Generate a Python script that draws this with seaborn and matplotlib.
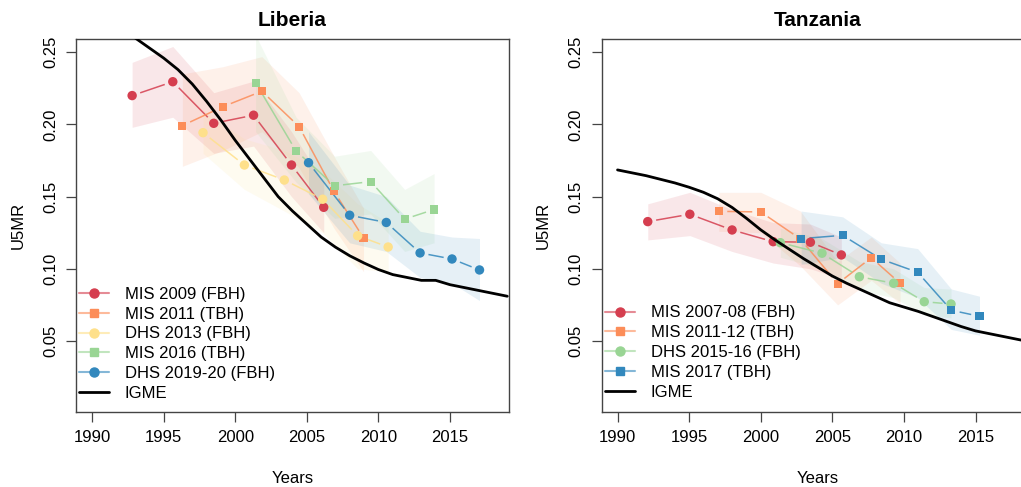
import numpy as np
import pandas as pd
import matplotlib
matplotlib.use("Agg")
import matplotlib.pyplot as plt
import seaborn as sns
from matplotlib.lines import Line2D

sns.set_theme(style="ticks")
plt.rcParams['font.family'] = ['Liberation Sans', 'DejaVu Sans']

# ---------------- data: Liberia ----------------
lib_mis2009_year = [1992.8, 1995.64, 1998.5, 2001.28, 2003.93, 2006.18]
lib_mis2009_u5mr = [0.220, 0.2296, 0.2008, 0.2064, 0.1719, 0.1426]
lib_mis2009_lo = [0.198, 0.205, 0.180, 0.185, 0.150, 0.125]
lib_mis2009_hi = [0.243, 0.254, 0.222, 0.230, 0.195, 0.160]

lib_mis2011_year = [1996.31, 1999.14, 2001.86, 2004.46, 2006.9, 2008.96]
lib_mis2011_u5mr = [0.1992, 0.2123, 0.2230, 0.1985, 0.1536, 0.1214]
lib_mis2011_lo = [0.171, 0.182, 0.195, 0.170, 0.128, 0.098]
lib_mis2011_hi = [0.235, 0.240, 0.247, 0.222, 0.178, 0.142]

lib_dhs2013_year = [1997.75, 2000.64, 2003.43, 2006.11, 2008.55, 2010.68]
lib_dhs2013_u5mr = [0.1943, 0.1719, 0.1615, 0.1482, 0.1229, 0.1151]
lib_dhs2013_lo = [0.180, 0.155, 0.140, 0.125, 0.100, 0.098]
lib_dhs2013_hi = [0.210, 0.190, 0.182, 0.168, 0.145, 0.132]

lib_mis2016_year = [2001.42, 2004.25, 2006.94, 2009.46, 2011.83, 2013.89]
lib_mis2016_u5mr = [0.2289, 0.1816, 0.1575, 0.1604, 0.1344, 0.1411]
lib_mis2016_lo = [0.195, 0.160, 0.135, 0.138, 0.112, 0.118]
lib_mis2016_hi = [0.262, 0.205, 0.178, 0.182, 0.155, 0.166]

lib_dhs2019_year = [2005.12, 2007.99, 2010.55, 2012.91, 2015.14, 2017.06]
lib_dhs2019_u5mr = [0.1735, 0.1371, 0.1321, 0.1110, 0.1068, 0.0992]
lib_dhs2019_lo = [0.152, 0.118, 0.112, 0.094, 0.090, 0.078]
lib_dhs2019_hi = [0.195, 0.158, 0.150, 0.126, 0.122, 0.121]

igme_year = list(range(1990, 2020))
lib_igme = [0.268, 0.266, 0.263, 0.260, 0.253, 0.246, 0.238, 0.228, 0.216, 0.203,
            0.189, 0.176, 0.163, 0.150, 0.140, 0.131, 0.122, 0.115, 0.109, 0.104,
            0.0995, 0.096, 0.094, 0.092, 0.092, 0.089, 0.087, 0.085, 0.083, 0.081]

# ---------------- data: Tanzania ----------------
tza_mis2007_year = [1992.11, 1995.05, 1998.0, 2000.87, 2003.47, 2005.63]
tza_mis2007_u5mr = [0.1327, 0.1378, 0.1269, 0.1188, 0.1184, 0.1096]
tza_mis2007_lo = [0.120, 0.123, 0.112, 0.104, 0.100, 0.093]
tza_mis2007_hi = [0.145, 0.153, 0.141, 0.132, 0.131, 0.122]

tza_mis2011_year = [1997.07, 2000.0, 2002.77, 2005.37, 2007.72, 2009.73]
tza_mis2011_u5mr = [0.1398, 0.1394, 0.1207, 0.0897, 0.1077, 0.0900]
tza_mis2011_lo = [0.126, 0.125, 0.102, 0.075, 0.092, 0.076]
tza_mis2011_hi = [0.153, 0.153, 0.140, 0.105, 0.122, 0.104]

tza_dhs2015_year = [2001.37, 2004.28, 2006.89, 2009.28, 2011.42, 2013.29]
tza_dhs2015_u5mr = [0.1181, 0.1108, 0.0945, 0.0900, 0.0772, 0.0756]
tza_dhs2015_lo = [0.108, 0.100, 0.085, 0.080, 0.068, 0.066]
tza_dhs2015_hi = [0.128, 0.121, 0.105, 0.100, 0.087, 0.086]

tza_mis2017_year = [2002.82, 2005.72, 2008.42, 2010.96, 2013.31, 2015.28]
tza_mis2017_u5mr = [0.1209, 0.1232, 0.1066, 0.0976, 0.0713, 0.0671]
tza_mis2017_lo = [0.103, 0.108, 0.090, 0.080, 0.058, 0.054]
tza_mis2017_hi = [0.140, 0.136, 0.118, 0.114, 0.086, 0.081]

tza_igme = [0.1685, 0.1665, 0.1645, 0.162, 0.1595, 0.1565, 0.153, 0.1485, 0.1425, 0.135,
            0.127, 0.120, 0.1135, 0.107, 0.101, 0.095, 0.090, 0.0855, 0.081, 0.0765,
            0.0735, 0.0705, 0.067, 0.0635, 0.060, 0.057, 0.055, 0.053, 0.051, 0.049]

x_ticks = [1990, 1995, 2000, 2005, 2010, 2015]
y_ticks = [0.05, 0.10, 0.15, 0.20, 0.25]
y_tick_labels = ["0.05", "0.10", "0.15", "0.20", "0.25"]

C_RED, C_ORANGE, C_YELLOW, C_GREEN, C_BLUE = "#D53E4F", "#FC8D59", "#FEE08B", "#99D594", "#3288BD"

lib_series = [
    ("MIS 2009 (FBH)", C_RED, "o", lib_mis2009_year, lib_mis2009_u5mr, lib_mis2009_lo, lib_mis2009_hi),
    ("MIS 2011 (TBH)", C_ORANGE, "s", lib_mis2011_year, lib_mis2011_u5mr, lib_mis2011_lo, lib_mis2011_hi),
    ("DHS 2013 (FBH)", C_YELLOW, "o", lib_dhs2013_year, lib_dhs2013_u5mr, lib_dhs2013_lo, lib_dhs2013_hi),
    ("MIS 2016 (TBH)", C_GREEN, "s", lib_mis2016_year, lib_mis2016_u5mr, lib_mis2016_lo, lib_mis2016_hi),
    ("DHS 2019-20 (FBH)", C_BLUE, "o", lib_dhs2019_year, lib_dhs2019_u5mr, lib_dhs2019_lo, lib_dhs2019_hi),
]
tza_series = [
    ("MIS 2007-08 (FBH)", C_RED, "o", tza_mis2007_year, tza_mis2007_u5mr, tza_mis2007_lo, tza_mis2007_hi),
    ("MIS 2011-12 (TBH)", C_ORANGE, "s", tza_mis2011_year, tza_mis2011_u5mr, tza_mis2011_lo, tza_mis2011_hi),
    ("DHS 2015-16 (FBH)", C_GREEN, "o", tza_dhs2015_year, tza_dhs2015_u5mr, tza_dhs2015_lo, tza_dhs2015_hi),
    ("MIS 2017 (TBH)", C_BLUE, "s", tza_mis2017_year, tza_mis2017_u5mr, tza_mis2017_lo, tza_mis2017_hi),
]

fig = plt.figure(figsize=(10.21, 4.87), dpi=100)
AX_W, AX_H, AX_B = 433 / 1021, 373.6 / 487, (487 - 412.3) / 487
ax1 = fig.add_axes([76 / 1021, AX_B, AX_W, AX_H])
ax2 = fig.add_axes([601.5 / 1021, AX_B, AX_W, AX_H])


def gapped_line(ax, x, y, color, gap=8.5):
    pts = ax.transData.transform(np.column_stack([x, y]))
    inv = ax.transData.inverted()
    for p0, p1 in zip(pts[:-1], pts[1:]):
        d = p1 - p0
        L = np.hypot(*d)
        if L <= 2 * gap:
            continue
        u = d / L
        seg = inv.transform(np.array([p0 + u * gap, p1 - u * gap]))
        ax.plot(seg[:, 0], seg[:, 1], color=color, lw=1.1, alpha=0.85,
                solid_capstyle='butt', zorder=2)


def panel(ax, title, series, igme, leg_xy):
    ax.set_xlim(1988.88, 2019.12)
    ax.set_ylim(0.0006, 0.2594)
    for name, c, m, x, y, lo, hi in series:
        ax.fill_between(x, lo, hi, color=c, alpha=0.12, lw=0, zorder=1)
    for name, c, m, x, y, lo, hi in series:
        gapped_line(ax, x, y, c)
        df = pd.DataFrame({"year": x, "u5mr": y})
        sns.scatterplot(data=df, x="year", y="u5mr", marker=m, s=46 if m == "o" else 34,
                        color=c, edgecolor="none", linewidth=0, ax=ax, zorder=3, legend=False)
    sns.lineplot(x=igme_year, y=igme, color="black", lw=2.0, ax=ax, zorder=4)

    ax.set_xticks(x_ticks)
    ax.set_xticklabels([str(t) for t in x_ticks])
    ax.set_yticks(y_ticks)
    ax.set_yticklabels(y_tick_labels, rotation=90, va="center")
    ax.tick_params(direction="out", length=7, width=0.9, color="#444444",
                   labelsize=12, pad=6, labelcolor="black")
    for s in ax.spines.values():
        s.set_visible(True)
        s.set_color("#444444")
        s.set_linewidth(1.0)
    ax.set_xlabel("Years", fontsize=12, color="black")
    ax.set_ylabel("U5MR", fontsize=12, color="black")
    ax.xaxis.set_label_coords(0.5, -0.176)
    ax.yaxis.set_label_coords(-0.134, 0.5)
    ax.xaxis.label.set_va("center")
    ax.yaxis.label.set_va("center")
    ax.text(0.5, 1.05, title, transform=ax.transAxes, ha="center", va="center",
            fontsize=15, fontweight="bold", color="black")

    handles, labels = [], []
    for name, c, m, x, y, lo, hi in series:
        rgba = matplotlib.colors.to_rgba(c, 0.6)
        handles.append(Line2D([0], [0], color=rgba, lw=1.5, marker=m,
                              markersize=6.5 if m == "o" else 6,
                              markerfacecolor=c, markeredgecolor=c))
        labels.append(name)
    handles.append(Line2D([0], [0], color="black", lw=2.0))
    labels.append("IGME")
    ax.legend(handles, labels, loc="upper left", bbox_to_anchor=leg_xy, frameon=False,
              fontsize=12, handlelength=1.8, handletextpad=0.95, labelspacing=0.29,
              borderaxespad=0, borderpad=0, labelcolor="black")


panel(ax1, "Liberia", lib_series, lib_igme, (0.007, 0.336))
panel(ax2, "Tanzania", tza_series, tza_igme, (0.008, 0.286))

fig.savefig("out.png", dpi=100)
